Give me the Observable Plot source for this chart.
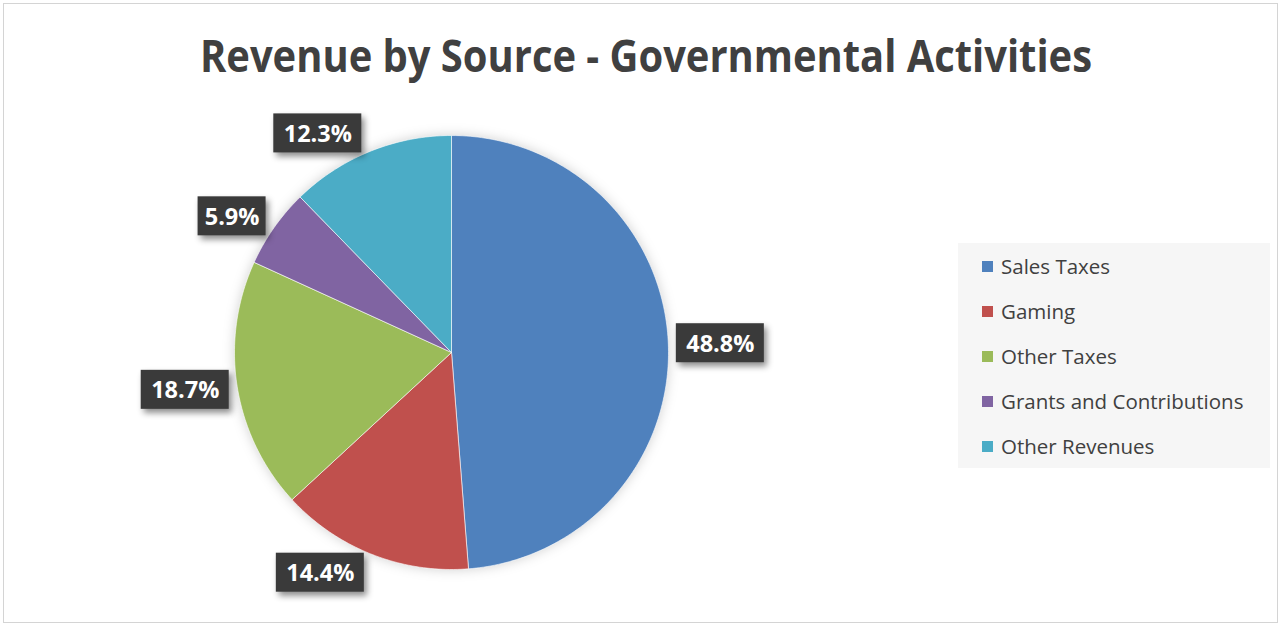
<!DOCTYPE html>
<html>
<head>
<meta charset="utf-8">
<script src="https://cdn.jsdelivr.net/npm/d3@7"></script>
<script src="https://cdn.jsdelivr.net/npm/@observablehq/plot@0.6"></script>
<style>
  body { margin: 0; background: #fff; }
  #wrap { position: relative; width: 1282px; height: 627px; overflow: hidden; }
  #border { position: absolute; left: 3px; top: 3px; width: 1275px; height: 620px; border: 1px solid #d4d4d4; box-sizing: border-box; }
  #chart { position: absolute; left: 0; top: 0; }
  #title { position: absolute; left: 0; top: 0; }
  #legend { position: absolute; left: 958px; top: 243px; width: 312px; height: 225px; background: #f6f6f6;
            font-family: "Open Sans", sans-serif; font-size: 20.5px; color: #404040; }
  .item { position: absolute; left: 24px; display: flex; align-items: center; white-space: nowrap; }
  .sw { width: 11px; height: 11px; margin-right: 8px; }
  g[aria-label="rect"] rect { filter: drop-shadow(3px 4px 3px rgba(0,0,0,0.45)); }
  g[aria-label="line"] { filter: drop-shadow(0px 0px 6px rgba(0,0,0,0.18)); }
</style>
</head>
<body>
<div id="wrap">
  <div id="border"></div>
  <div id="chart"></div>
  <svg id="title" width="1282" height="100"></svg>
  <div id="legend"></div>
</div>
<script>
const titleText = "Revenue by Source - Governmental Activities";
const categories = ["Sales Taxes", "Gaming", "Other Taxes", "Grants and Contributions", "Other Revenues"];
const values = [48.8, 14.4, 18.7, 5.9, 12.3];
const labels = ["48.8%", "14.4%", "18.7%", "5.9%", "12.3%"];
const colors = ["#4F81BD", "#C0504D", "#9BBB59", "#8064A2", "#4BACC6"];

const W = 1282, H = 627, cx = 451, cy = 352, R = 217;

// title
const tsvg = d3.select("#title");
tsvg.append("text")
  .attr("x", 646).attr("y", 72)
  .attr("text-anchor", "middle")
  .attr("textLength", 892).attr("lengthAdjust", "spacingAndGlyphs")
  .attr("font-family", "Open Sans, sans-serif").attr("font-weight", 700)
  .attr("font-size", 44).attr("fill", "#404040")
  .text(titleText);

// legend
const leg = d3.select("#legend");
categories.forEach((c, i) => {
  const it = leg.append("div").attr("class", "item").style("top", (9 + i * 45) + "px");
  it.append("div").attr("class", "sw").style("background", colors[i]);
  it.append("span").text(c);
});

// pie geometry from data
const arcs = d3.pie().sort(null).value(d => d)(values);
const pts = [];
arcs.forEach((a, i) => {
  const n = Math.max(2, Math.ceil((a.endAngle - a.startAngle) / (Math.PI / 180)));
  pts.push({k: categories[i], x: 0, y: 0});
  for (let j = 0; j <= n; j++) {
    const t = a.startAngle + (a.endAngle - a.startAngle) * j / n;
    pts.push({k: categories[i], x: Math.sin(t), y: Math.cos(t)});
  }
  pts.push({k: categories[i], x: 0, y: 0});
});

// label boxes: beside the edge point at the mid angle (Excel-like outside placement)
const gap = 8, bh = 39;
const boxes = arcs.map((a, i) => {
  const m = (a.startAngle + a.endAngle) / 2;
  const s = Math.sin(m), c = Math.cos(m);
  const bw = labels[i].length * 20 - 12;
  const x = s + Math.sign(s) * (bw / 2 + gap) / R;
  const y = c + c * (bh / 2) / R;
  return {label: labels[i], x, y, x1: x - bw / 2 / R, x2: x + bw / 2 / R, y1: y - bh / 2 / R, y2: y + bh / 2 / R};
});

const plot = Plot.plot({
  width: W, height: H,
  margin: 0,
  x: {domain: [-cx / R, (W - cx) / R], axis: null},
  y: {domain: [-(H - cy) / R, cy / R], axis: null},
  color: {domain: categories, range: colors},
  marks: [
    Plot.line(pts, {x: "x", y: "y", z: "k", fill: "k", stroke: "white", strokeWidth: 0.6, curve: "linear"}),
    Plot.rect(boxes, {x1: "x1", x2: "x2", y1: "y1", y2: "y2", fill: "#3a3a3a"}),
    Plot.text(boxes, {x: "x", y: "y", text: "label", fill: "white", fontSize: 23.5, fontWeight: 700,
                      fontFamily: "Open Sans, sans-serif", dy: 1})
  ]
});
document.getElementById("chart").appendChild(plot);
</script>
</body>
</html>
